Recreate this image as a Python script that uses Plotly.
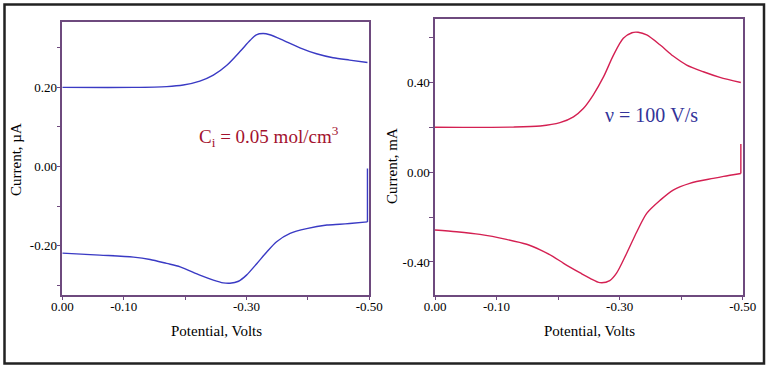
import plotly.graph_objects as go

# ---- Left panel (concentration) ----
left_upper_v = [0.0, -0.116, -0.170, -0.197, -0.224, -0.246, -0.268, -0.289, -0.306, -0.316, -0.327,
                -0.338, -0.360, -0.387, -0.414, -0.441, -0.468, -0.497]
left_upper_i = [0.200, 0.200, 0.202, 0.206, 0.216, 0.231, 0.256, 0.290, 0.319, 0.333, 0.336,
                0.333, 0.319, 0.300, 0.285, 0.275, 0.269, 0.263]
left_lower_v = [-0.497, -0.497, -0.468, -0.452, -0.431, -0.398, -0.371, -0.349, -0.333, -0.317, -0.300,
                -0.287, -0.273, -0.262, -0.246, -0.224, -0.192, -0.170, -0.143, -0.116, -0.061, 0.0]
left_lower_i = [-0.005, -0.140, -0.144, -0.146, -0.148, -0.157, -0.169, -0.190, -0.216, -0.245, -0.2745,
                -0.290, -0.295, -0.294, -0.287, -0.2745, -0.2535, -0.245, -0.235, -0.229, -0.224, -0.219]

# ---- Right panel (scan rate) ----
right_upper_v = [0.0, -0.127, -0.171, -0.203, -0.225, -0.241, -0.257, -0.274, -0.290, -0.306, -0.320,
                 -0.330, -0.344, -0.366, -0.387, -0.409, -0.436, -0.463, -0.497]
right_upper_i = [0.201, 0.202, 0.207, 0.222, 0.248, 0.285, 0.345, 0.427, 0.523, 0.598, 0.623,
                 0.625, 0.613, 0.568, 0.519, 0.479, 0.449, 0.424, 0.401]
right_lower_v = [-0.497, -0.497, -0.469, -0.452, -0.414, -0.387, -0.366, -0.344, -0.328, -0.3115, -0.295,
                 -0.284, -0.268, -0.252, -0.236, -0.209, -0.192, -0.171, -0.149, -0.116, -0.073, -0.035, 0.0]
right_lower_i = [0.126, -0.005, -0.018, -0.027, -0.049, -0.079, -0.124, -0.183, -0.265, -0.361, -0.450,
                 -0.483, -0.492, -0.473, -0.449, -0.406, -0.376, -0.346, -0.321, -0.299, -0.277, -0.265, -0.257]

x_tickvals = [0.0, -0.1, -0.3, -0.5]
x_ticktext = ["0.00", "-0.10", "-0.30", "-0.50"]
x_minor_vals = [-0.2, -0.4]
left_y_tickvals = [0.2, 0.0, -0.2]
left_y_ticktext = ["0.20", "0.00", "-0.20"]
left_y_minor_vals = [0.3, 0.1, -0.1, -0.3]
right_y_tickvals = [0.4, 0.0, -0.4]
right_y_ticktext = ["0.40", "0.00", "-0.40"]
right_y_minor_vals = [0.6, 0.2, -0.2]

W, H = 769, 369
FONT = "Liberation Serif"
FRAME = "#6e4a7e"
LEFT_COLOR = "#3a3ac4"
RIGHT_COLOR = "#d42052"

def px(x):
    return x / W

def py(y):
    return (H - y) / H

fig = go.Figure()
curve_l = dict(color=LEFT_COLOR, width=1.4, shape="spline", smoothing=0.8)
curve_r = dict(color=RIGHT_COLOR, width=1.4, shape="spline", smoothing=0.8)
spike_l = dict(color=LEFT_COLOR, width=1.4)
spike_r = dict(color=RIGHT_COLOR, width=1.4)
fig.add_trace(go.Scatter(x=left_upper_v, y=left_upper_i, mode="lines", line=curve_l, xaxis="x", yaxis="y"))
fig.add_trace(go.Scatter(x=left_lower_v[:2], y=left_lower_i[:2], mode="lines", line=spike_l, xaxis="x", yaxis="y"))
fig.add_trace(go.Scatter(x=left_lower_v[1:], y=left_lower_i[1:], mode="lines", line=curve_l, xaxis="x", yaxis="y"))
fig.add_trace(go.Scatter(x=right_upper_v, y=right_upper_i, mode="lines", line=curve_r, xaxis="x2", yaxis="y2"))
fig.add_trace(go.Scatter(x=right_lower_v[:2], y=right_lower_i[:2], mode="lines", line=spike_r, xaxis="x2", yaxis="y2"))
fig.add_trace(go.Scatter(x=right_lower_v[1:], y=right_lower_i[1:], mode="lines", line=curve_r, xaxis="x2", yaxis="y2"))

def axis(domain, rng, vals, text, minor_vals, anchor, standoff):
    return dict(domain=domain, range=rng, tickmode="array", tickvals=vals, ticktext=text, anchor=anchor,
                showline=True, mirror=True, linecolor=FRAME, linewidth=1.5, ticks="outside",
                ticklen=4, tickcolor=FRAME, tickwidth=1.2, showgrid=False, zeroline=False,
                automargin=False, ticklabelstandoff=standoff,
                minor=dict(tickmode="array", tickvals=minor_vals, ticks="outside", ticklen=4,
                           tickcolor=FRAME, tickwidth=1.2, showgrid=False),
                tickfont=dict(family=FONT, size=13, color="#000"))

fig.update_layout(
    width=W, height=H, margin=dict(l=0, r=0, t=0, b=0),
    paper_bgcolor="white", plot_bgcolor="white", showlegend=False,
    xaxis=axis([px(62.3), px(369.3)], [0.0, -0.5], x_tickvals, x_ticktext, x_minor_vals, "y", -5),
    yaxis=axis([py(294.7), py(21.7)], [-0.324, 0.366], left_y_tickvals, left_y_ticktext, left_y_minor_vals, "x", -3),
    xaxis2=axis([px(435), px(742.7)], [0.0, -0.5], x_tickvals, x_ticktext, x_minor_vals, "y2", -5),
    yaxis2=axis([py(294.7), py(19.3)], [-0.546, 0.683], right_y_tickvals, right_y_ticktext, right_y_minor_vals, "x2", -3),
)

title_font = dict(family=FONT, size=15, color="#000")
annotations = [
    dict(text="Potential, Volts", x=px(216), y=py(331), font=title_font),
    dict(text="Potential, Volts", x=px(589), y=py(331), font=title_font),
    dict(text="Current, µA", x=px(16), y=py(160), textangle=-90, font=title_font),
    dict(text="Current, mA", x=px(392), y=py(166), textangle=-90, font=title_font),
    dict(text="C<sub>i</sub> = 0.05 mol/cm<sup>3</sup>", x=px(269), y=py(136),
         font=dict(family=FONT, size=19, color="#a3122e")),
    dict(text="ν = 100 V/s", x=px(651), y=py(115),
         font=dict(family=FONT, size=20, color="#333399")),
]
for a in annotations:
    fig.add_annotation(xref="paper", yref="paper", showarrow=False, xanchor="center", yanchor="middle", **a)

fig.add_shape(type="rect", xref="paper", yref="paper", x0=px(4.5), x1=px(764), y0=py(363.5), y1=py(4.5),
              line=dict(color="#222", width=2.5))

fig.write_html("out.html", config={"displayModeBar": False},
               post_script="document.body.style.margin='0';document.body.style.overflow='hidden';")
